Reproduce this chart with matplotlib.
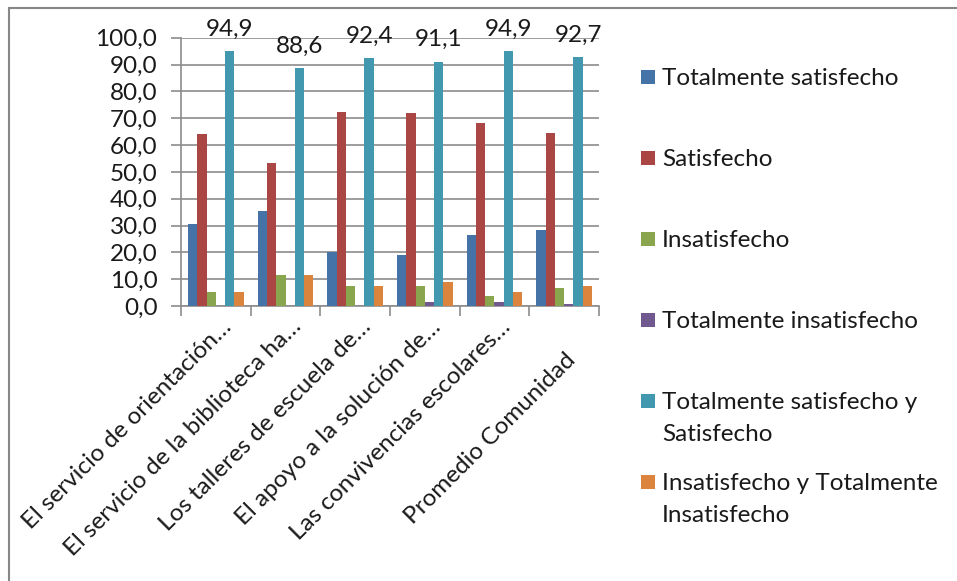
import matplotlib
matplotlib.use("Agg")
import matplotlib.pyplot as plt
from matplotlib.patches import Rectangle
from matplotlib.ticker import FixedLocator, FuncFormatter
from matplotlib.transforms import ScaledTranslation, blended_transform_factory
import numpy as np

plt.rcParams['font.family'] = ['Lato', 'DejaVu Sans']

categories = [
    "El servicio de orientación…",
    "El servicio de la biblioteca ha…",
    "Los talleres de escuela de…",
    "El apoyo a la solución de…",
    "Las convivencias escolares…",
    "Promedio Comunidad",
]
series_names = [
    "Totalmente satisfecho",
    "Satisfecho",
    "Insatisfecho",
    "Totalmente insatisfecho",
    "Totalmente satisfecho y\nSatisfecho",
    "Insatisfecho y Totalmente\nInsatisfecho",
]
tot_sat = [30.7, 35.4, 20.2, 19.1, 26.6, 28.3]
sat = [64.2, 53.2, 72.2, 72.0, 68.3, 64.4]
insat = [5.1, 11.4, 7.6, 7.5, 3.7, 6.7]
tot_insat = [0.0, 0.0, 0.0, 1.4, 1.4, 0.6]
sat_total = [94.9, 88.6, 92.4, 91.1, 94.9, 92.7]
insat_total = [5.1, 11.4, 7.6, 8.9, 5.1, 7.3]

series = [tot_sat, sat, insat, tot_insat, sat_total, insat_total]
colors = ['#4572A7', '#AA4643', '#89A54E', '#71588F', '#4198AF', '#DB843D']
grey = '#8c8c8c'
text_col = '#1a1a1a'
fs = 17.5


def comma(v, pos=None):
    return f"{v:.1f}".replace('.', ',')


W, H = 957, 581
fig = plt.figure(figsize=(W / 100, H / 100), dpi=100)
ax = fig.add_axes([181 / W, 1 - 306 / H, (599 - 181) / W, (306 - 37.7) / H])

x = np.arange(len(categories))
n = len(series)
bw = 0.8 / n
for k, (vals, col) in enumerate(zip(series, colors)):
    offs = (k - (n - 1) / 2) * bw
    bars = ax.bar(x + offs, vals, bw, color=col, linewidth=0, zorder=3)
    if k == 4:
        for b, v in zip(bars, vals):
            ax.annotate(comma(v), (b.get_x() + b.get_width() / 2, v),
                        xytext=(0, 11), textcoords='offset points',
                        ha='center', va='baseline', fontsize=fs, color=text_col)

ax.set_xlim(-0.5, len(categories) - 0.5)
ax.set_ylim(0, 100)
ax.yaxis.set_major_locator(FixedLocator(np.arange(0, 101, 10)))
ax.yaxis.set_major_formatter(FuncFormatter(comma))
ax.yaxis.grid(True, color=grey, linewidth=1.2, zorder=0)
ax.set_axisbelow(True)
ax.set_xticks(np.arange(-0.5, len(categories), 1))
ax.set_xticklabels([])
ax.tick_params(axis='x', length=7, color=grey, width=1.2)
ax.tick_params(axis='y', length=7, color=grey, width=1.2, labelsize=fs,
               pad=10, labelcolor=text_col)
for s in ['top', 'right']:
    ax.spines[s].set_visible(False)
for s in ['left', 'bottom']:
    ax.spines[s].set_color(grey)
    ax.spines[s].set_linewidth(1.2)

# rotated category labels, right end anchored below each group
trans = blended_transform_factory(ax.transData, ax.transAxes)
label_offsets = [(17, 22)] * 5 + [(13, 55)]
for i, (lab, (dx, dy)) in enumerate(zip(categories, label_offsets)):
    off = ScaledTranslation(dx / 100, -dy / 100, fig.dpi_scale_trans)
    ax.text(i, 0, lab, transform=trans + off, rotation=45, ha='right',
            va='baseline', rotation_mode='anchor', fontsize=fs, color=text_col)

# legend entries, evenly spaced by their first line
for k, (name, col) in enumerate(zip(series_names, colors)):
    yc = 77 + 81 * k
    fig.add_artist(Rectangle((641 / W, 1 - (yc + 7) / H), 14 / W, 14 / H,
                             transform=fig.transFigure, facecolor=col,
                             edgecolor='none'))
    for j, line in enumerate(name.split('\n')):
        fig.text(662 / W, 1 - (yc + 8 + 32 * j) / H, line, ha='left',
                 va='baseline', fontsize=fs, color=text_col)

# chart area frame
fig.add_artist(Rectangle((8.5 / W, -0.2), 2, 1.2 - 7.5 / H,
                         transform=fig.transFigure, fill=False,
                         edgecolor='#878787', linewidth=1.5))

fig.savefig("out.png", dpi=100)
